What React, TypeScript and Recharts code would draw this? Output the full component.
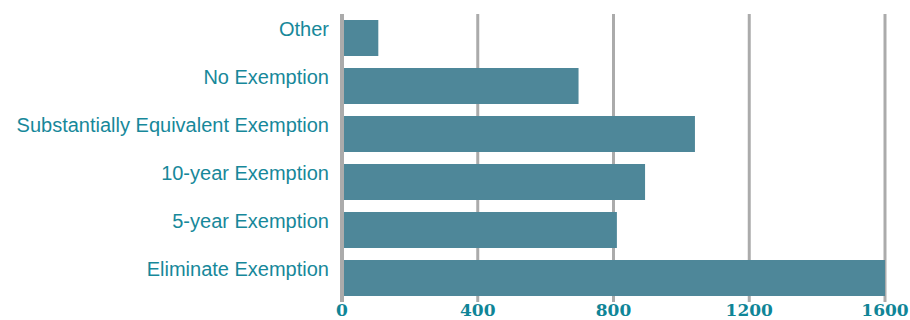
import React from 'react';
import { BarChart, Bar, XAxis, YAxis, CartesianGrid } from 'recharts';

// categories top to bottom
const categories = [
  'Other',
  'No Exemption',
  'Substantially Equivalent Exemption',
  '10-year Exemption',
  '5-year Exemption',
  'Eliminate Exemption',
];
const responses = [107, 697, 1040, 893, 810, 1605];
const xTicks = [0, 400, 800, 1200, 1600];

const data = categories.map((name, i) => ({ name, value: responses[i] }));

const TEAL = '#17889a';
const BAR = '#4e8799';
const GRID = '#ababab';

const App: React.FC = () => {
  return (
    <div style={{ position: 'absolute', left: 0, top: 0, background: '#fff' }}>
      <BarChart
        width={910}
        height={320}
        data={data}
        layout="vertical"
        margin={{ top: 14, right: 25, left: 0, bottom: 0 }}
        barSize={36}
      >
        <CartesianGrid
          horizontal={false}
          vertical={true}
          stroke={GRID}
          strokeWidth={3}
          strokeDasharray=""
        />
        <XAxis
          type="number"
          domain={[0, 1600]}
          ticks={xTicks}
          allowDataOverflow
          axisLine={false}
          tickLine={false}
          tickSize={0}
          tickMargin={2}
          height={18}
          tick={{
            fill: '#0f8597',
            fontFamily: 'DejaVu Serif',
            fontWeight: 'bold',
            fontSize: 17,
          }}
        />
        <YAxis
          type="category"
          dataKey="name"
          width={342}
          axisLine={{ stroke: GRID, strokeWidth: 4 }}
          tickLine={false}
          tickSize={0}
          tickMargin={13}
          interval={0}
          tick={{
            fill: TEAL,
            fontFamily: 'Liberation Sans',
            fontSize: 20,
            dy: -9,
          }}
        />
        <Bar dataKey="value" fill={BAR} isAnimationActive={false} />
      </BarChart>
    </div>
  );
};

export default App;
